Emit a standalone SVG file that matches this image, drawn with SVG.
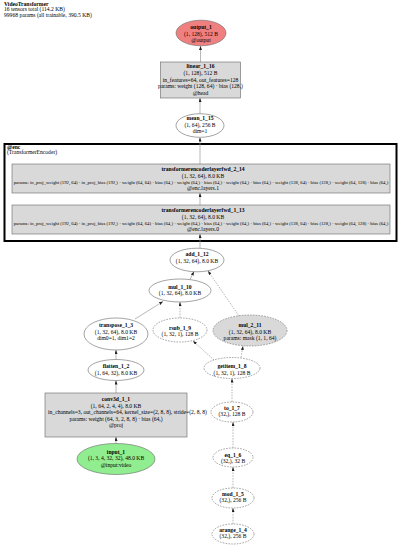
<svg xmlns="http://www.w3.org/2000/svg" width="400" height="546" viewBox="0 0 400 546">
<defs>
<marker id="ah" markerUnits="userSpaceOnUse" markerWidth="4" markerHeight="3" refX="4" refY="1.5" orient="auto"><path d="M0,0 L4,1.5 L0,3 z" fill="#222"/></marker>
<style>
text{font-family:"Liberation Serif","Times New Roman",serif;font-size:5.6px;fill:#000}
.c{text-anchor:middle}
.b{font-weight:bold}
.p{font-size:4.75px}
.n{stroke:#666;stroke-width:0.6}
.r{fill:#d9d9d9;stroke:#666;stroke-width:0.6}
.w{fill:#fff}
.d{stroke-dasharray:1.6,1.2}
.e{fill:none;stroke:#999;stroke-width:0.7;marker-end:url(#ah)}
</style>
</defs>
<rect width="400" height="546" fill="#fff"/>
<g id="title">
<text x="4" y="6" class="b">VideoTransformer</text>
<text x="4" y="11.3">16 tensors total (114.2 KB)</text>
<text x="4" y="16.5">99968 params (all trainable, 390.5 KB)</text>
</g>
<g id="cluster_enc">
<rect x="4.5" y="144" width="392" height="97" fill="none" stroke="#000" stroke-width="2"/>
<text x="7" y="149.2" class="b">@enc</text>
<text x="7" y="154.4">(TransformerEncoder)</text>
</g>
<g id="edges">
<line class="e" x1="200.5" y1="62" x2="200.5" y2="46"/>
<line class="e" x1="200" y1="113.5" x2="200" y2="98"/>
<line class="e" x1="200" y1="164" x2="200" y2="137.5"/>
<line class="e" x1="200" y1="205" x2="200" y2="193"/>
<line class="e" x1="200" y1="248" x2="200" y2="234"/>
<line class="e" x1="190" y1="279.5" x2="194" y2="271.5"/>
<line class="e d" x1="239" y1="316" x2="208" y2="271"/>
<line class="e" x1="135" y1="319" x2="163" y2="301.5"/>
<line class="e d" x1="180" y1="318" x2="180" y2="302"/>
<line class="e" x1="116" y1="359.5" x2="116" y2="350"/>
<line class="e d" x1="214" y1="360" x2="193" y2="341"/>
<line class="e d" x1="241" y1="357.5" x2="243" y2="346"/>
<line class="e" x1="116" y1="393" x2="116" y2="380.5"/>
<line class="e" x1="116" y1="443.5" x2="116" y2="437"/>
<line class="e d" x1="232" y1="402" x2="232" y2="378.5"/>
<line class="e d" x1="233" y1="448" x2="233" y2="422"/>
<line class="e d" x1="233" y1="488" x2="233" y2="467"/>
<line class="e d" x1="233" y1="524" x2="233" y2="508"/>
</g>
<g id="output_1">
<ellipse cx="201" cy="33" rx="25" ry="12.8" fill="#f08080" class="n"/>
<text x="201" y="29.2" class="c b">output_1</text>
<text x="201" y="35.8" class="c">(1, 128), 512 B</text>
<text x="201" y="42.2" class="c">@output</text>
</g>
<g id="linear_1_16">
<rect x="160.5" y="62" width="80" height="36" class="r"/>
<text x="200.5" y="68.4" class="c b">linear_1_16</text>
<text x="200.5" y="75" class="c">(1, 128), 512 B</text>
<text x="200.5" y="81.6" class="c">in_features=64, out_features=128</text>
<text x="200.5" y="88.2" class="c">params: weight (128, 64) · bias (128,)</text>
<text x="200.5" y="94.8" class="c">@head</text>
</g>
<g id="mean_1_15">
<ellipse cx="200" cy="125.5" rx="24" ry="11.8" class="n w"/>
<text x="200" y="120.4" class="c b">mean_1_15</text>
<text x="200" y="127" class="c">(1, 64), 256 B</text>
<text x="200" y="133.4" class="c">dim=1</text>
</g>
<g id="transformerencoderlayerfwd_2_14">
<rect x="12" y="164" width="378" height="29" class="r"/>
<text x="203" y="171.4" class="c b">transformerencoderlayerfwd_2_14</text>
<text x="203" y="177.7" class="c">(1, 32, 64), 8.0 KB</text>
<text x="201" y="184" class="c p">params: in_proj_weight (192, 64) · in_proj_bias (192,) · weight (64, 64) · bias (64,) · weight (64,) · bias (64,) · weight (64,) · bias (64,) · weight (128, 64) · bias (128,) · weight (64, 128) · bias (64,)</text>
<text x="203" y="190.3" class="c">@enc.layers.1</text>
</g>
<g id="transformerencoderlayerfwd_1_13">
<rect x="12" y="205" width="378" height="29" class="r"/>
<text x="203" y="212.4" class="c b">transformerencoderlayerfwd_1_13</text>
<text x="203" y="218.7" class="c">(1, 32, 64), 8.0 KB</text>
<text x="201" y="225" class="c p">params: in_proj_weight (192, 64) · in_proj_bias (192,) · weight (64, 64) · bias (64,) · weight (64,) · bias (64,) · weight (64,) · bias (64,) · weight (128, 64) · bias (128,) · weight (64, 128) · bias (64,)</text>
<text x="203" y="231.3" class="c">@enc.layers.0</text>
</g>
<g id="add_1_12">
<ellipse cx="197" cy="260" rx="27" ry="11.8" class="n w"/>
<text x="197" y="256.2" class="c b">add_1_12</text>
<text x="197" y="262.8" class="c">(1, 32, 64), 8.0 KB</text>
</g>
<g id="mul_1_10">
<ellipse cx="180" cy="290.5" rx="31" ry="11.5" class="n w"/>
<text x="180" y="288.5" class="c b">mul_1_10</text>
<text x="180" y="295.2" class="c">(1, 32, 64), 8.0 KB</text>
</g>
<g id="transpose_1_3">
<ellipse cx="116" cy="334" rx="32" ry="16" class="n w"/>
<text x="116" y="327.2" class="c b">transpose_1_3</text>
<text x="116" y="333.8" class="c">(1, 32, 64), 8.0 KB</text>
<text x="116" y="340.4" class="c">dim0=1, dim1=2</text>
</g>
<g id="rsub_1_9">
<ellipse cx="180" cy="330" rx="27" ry="12" class="n w d"/>
<text x="180" y="329.6" class="c b">rsub_1_9</text>
<text x="180" y="336.2" class="c">(1, 32, 1), 128 B</text>
</g>
<g id="mul_2_11">
<ellipse cx="250" cy="330.5" rx="37" ry="15.5" fill="#d9d9d9" class="n d"/>
<text x="250" y="326.9" class="c b">mul_2_11</text>
<text x="250" y="333.5" class="c">(1, 32, 64), 8.0 KB</text>
<text x="250" y="340.1" class="c">params: mask (1, 1, 64)</text>
</g>
<g id="flatten_1_2">
<ellipse cx="116" cy="370" rx="28" ry="10.5" class="n w"/>
<text x="116" y="368.4" class="c b">flatten_1_2</text>
<text x="116" y="375" class="c">(1, 64, 32), 8.0 KB</text>
</g>
<g id="getitem_1_8">
<ellipse cx="232" cy="368" rx="28" ry="10.5" class="n w d"/>
<text x="232" y="368" class="c b">getitem_1_8</text>
<text x="232" y="374.6" class="c">(1, 32, 1), 128 B</text>
</g>
<g id="conv3d_1_1">
<rect x="45" y="393" width="142" height="44" class="r"/>
<text x="116" y="401.4" class="c b">conv3d_1_1</text>
<text x="116" y="407.9" class="c">(1, 64, 2, 4, 4), 8.0 KB</text>
<text x="48" y="414.4">in_channels=3, out_channels=64, kernel_size=(2, 8, 8), stride=(2, 8, 8)</text>
<text x="116" y="420.9" class="c">params: weight (64, 3, 2, 8, 8) · bias (64,)</text>
<text x="116" y="427.4" class="c">@proj</text>
</g>
<g id="input_1">
<ellipse cx="116" cy="459" rx="39" ry="15.5" fill="#90ee90" class="n"/>
<text x="116" y="453.6" class="c b">input_1</text>
<text x="116" y="460.2" class="c">(1, 3, 4, 32, 32), 48.0 KB</text>
<text x="116" y="466.8" class="c">@input:video</text>
</g>
<g id="to_1_7">
<ellipse cx="232" cy="412" rx="21" ry="10" class="n w d"/>
<text x="232" y="409.9" class="c b">to_1_7</text>
<text x="232" y="416.2" class="c">(32,), 128 B</text>
</g>
<g id="eq_1_6">
<ellipse cx="233" cy="457.5" rx="20" ry="9.5" class="n w d"/>
<text x="233" y="456.9" class="c b">eq_1_6</text>
<text x="233" y="463" class="c">(32,), 32 B</text>
</g>
<g id="mod_1_5">
<ellipse cx="233" cy="498" rx="21" ry="10" class="n w d"/>
<text x="233" y="496.2" class="c b">mod_1_5</text>
<text x="233" y="502.2" class="c">(32,), 256 B</text>
</g>
<g id="arange_1_4">
<ellipse cx="233" cy="534" rx="21" ry="10" class="n w d"/>
<text x="233" y="532" class="c b">arange_1_4</text>
<text x="233" y="538.2" class="c">(32,), 256 B</text>
</g>
</svg>
